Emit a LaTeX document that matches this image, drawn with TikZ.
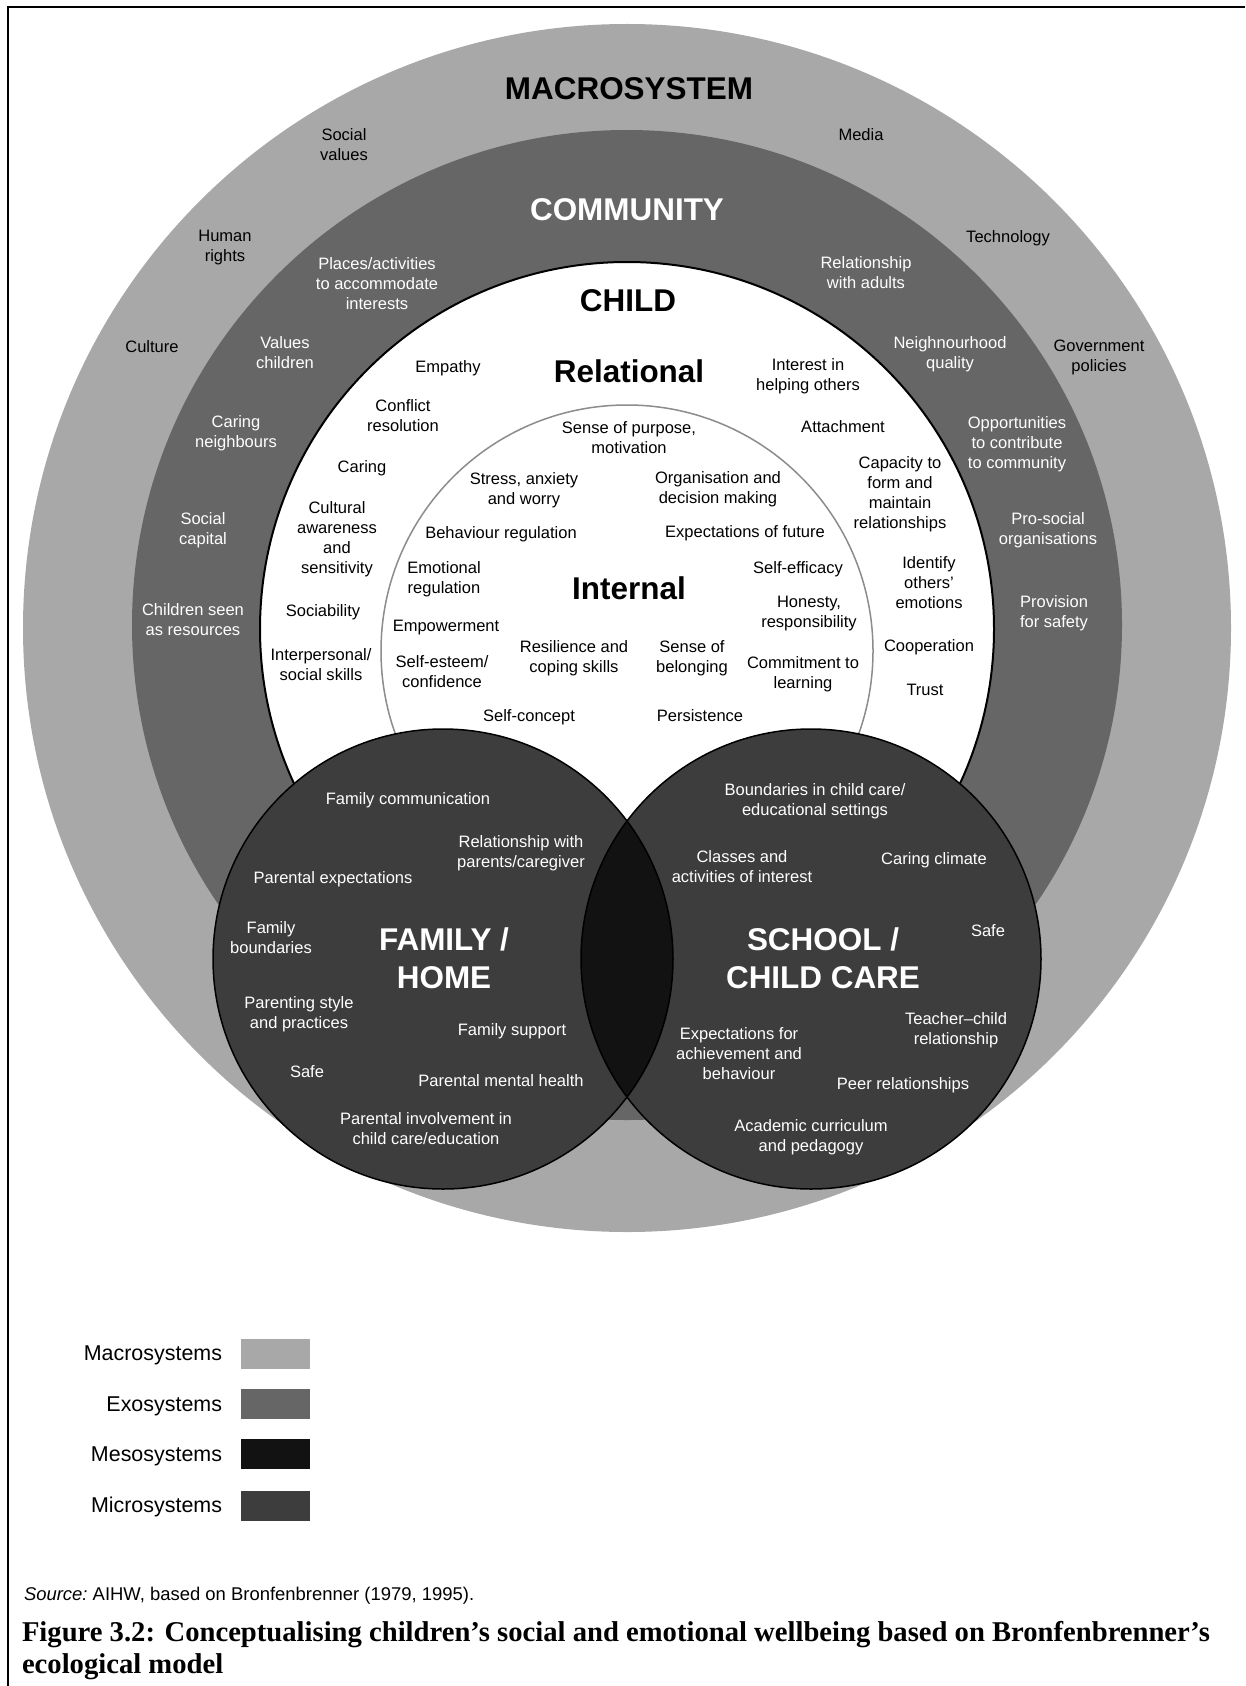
\documentclass[tikz,border=0pt]{standalone}
\usepackage{fontspec}
\setmainfont{Liberation Sans}
\newfontfamily\capfont{Liberation Serif}
\usepackage{tikz}

\definecolor{macrogray}{gray}{0.66}
\definecolor{exogray}{gray}{0.40}
\definecolor{microgray}{gray}{0.24}
\definecolor{mesogray}{gray}{0.07}
\definecolor{ringgray}{gray}{0.55}

\begin{document}
\begin{tikzpicture}[x=0.02cm, y=-0.02cm,
  every node/.style={inner sep=0pt, outer sep=0pt},
  lab/.style={align=center, font=\fontsize{9.4}{11.5}\selectfont, yshift=-0.05cm,
    execute at begin node=\strut, execute at end node=\strut},
  labw/.style={lab, text=white},
  head/.style={align=center, font=\fontsize{17.9}{21.5}\selectfont\bfseries, yshift=-0.03cm,
    execute at begin node=\strut, execute at end node=\strut},
  legtext/.style={anchor=east, font=\fontsize{12.2}{14.6}\selectfont, yshift=-0.05cm,
    execute at begin node=\strut},
  swatch/.style={minimum width=1.38cm, minimum height=0.6cm}]
\useasboundingbox (0,0) rectangle (1245,1686);
\draw[line width=0.04cm] (8,1686) -- (8,7) -- (1245,7);

\fill[macrogray] (627,628) circle (604);
\fill[exogray] (627,625) circle (495);
\filldraw[fill=white, draw=black, line width=0.04cm] (627,629) circle (367);
\draw[ringgray, line width=0.03cm] (627,651) circle (246);
\fill[microgray] (443,959) circle (230);
\fill[microgray] (811,959) circle (230);
\begin{scope}
\clip (443,959) circle (230);
\fill[mesogray] (811,959) circle (230);
\end{scope}
\draw[black, line width=0.03cm] (443,959) circle (230);
\draw[black, line width=0.03cm] (811,959) circle (230);

\node[head] (macrotitle) at (629,90) {MACROSYSTEM};
\node[lab] (socval) at (344,145) {Social\\values};
\node[lab] (media) at (861,134) {Media};
\node[lab] (humrights) at (225,246) {Human\\rights};
\node[lab] (techno) at (1008,236) {Technology};
\node[lab] (culture) at (152,346) {Culture};
\node[lab] (govpol) at (1099,356) {Government\\policies};

\node[head, text=white] (commtitle) at (627,211) {COMMUNITY};
\node[labw] (places) at (377,284) {Places/activities\\to accommodate\\interests};
\node[labw] (reladults) at (866,273) {Relationship\\with adults};
\node[labw] (valchild) at (285,353) {Values\\children};
\node[labw] (neighq) at (950,353) {Neighnourhood\\quality};
\node[labw] (caringn) at (236,432) {Caring\\neighbours};
\node[labw] (opport) at (1017,443) {Opportunities\\to contribute\\to community};
\node[labw] (soccap) at (203,529) {Social\\capital};
\node[labw] (prosoc) at (1048,529) {Pro-social\\organisations};
\node[labw] (chres) at (193,620) {Children seen\\as resources};
\node[labw] (provsafe) at (1054,612) {Provision\\for safety};

\node[head] (childtitle) at (628,302) {CHILD};
\node[head] (reltitle) at (629,373) {Relational};
\node[lab] (empathy) at (448,366) {Empathy};
\node[lab] (interest) at (808,375) {Interest in\\helping others};
\node[lab] (conflict) at (403,416) {Conflict\\resolution};
\node[lab] (attach) at (843,426) {Attachment};
\node[lab] (caring) at (362,466) {Caring};
\node[lab] (capacity) at (900,493) {Capacity to\\form and\\maintain\\relationships};
\node[lab] (cultural) at (337,538) {Cultural\\awareness\\and\\sensitivity};
\node[lab] (identify) at (929,583) {Identify\\others’\\emotions};
\node[lab] (sociab) at (323,610) {Sociability};
\node[lab] (coop) at (929,645) {Cooperation};
\node[lab] (interpers) at (321,665) {Interpersonal/\\social skills};
\node[lab] (trust) at (925,689) {Trust};

\node[head] (inttitle) at (629,590) {Internal};
\node[lab] (purpose) at (629,438) {Sense of purpose,\\motivation};
\node[lab] (stress) at (524,489) {Stress, anxiety\\and worry};
\node[lab] (organis) at (718,488) {Organisation and\\decision making};
\node[lab] (behav) at (501,532) {Behaviour regulation};
\node[lab] (expect) at (745,531) {Expectations of future};
\node[lab] (emoreg) at (444,578) {Emotional\\regulation};
\node[lab] (effic) at (798,567) {Self-efficacy};
\node[lab] (honesty) at (809,612) {Honesty,\\responsibility};
\node[lab] (empower) at (446,625) {Empowerment};
\node[lab] (resil) at (574,657) {Resilience and\\coping skills};
\node[lab] (belong) at (692,657) {Sense of\\belonging};
\node[lab] (esteem) at (442,672) {Self-esteem/\\confidence};
\node[lab] (commit) at (803,673) {Commitment to\\learning};
\node[lab] (concept) at (529,715) {Self-concept};
\node[lab] (persist) at (700,715) {Persistence};

\node[head, text=white] (famhome) at (444,962) {FAMILY /\\HOME};
\node[labw] (famcomm) at (408,798) {Family communication};
\node[labw] (relpar) at (521,852) {Relationship with\\parents/caregiver};
\node[labw] (parexp) at (333,877) {Parental expectations};
\node[labw] (fambound) at (271,938) {Family\\boundaries};
\node[labw] (parstyle) at (299,1013) {Parenting style\\and practices};
\node[labw] (famsupp) at (512,1029) {Family support};
\node[labw] (safefam) at (307,1071) {Safe};
\node[labw] (parmental) at (501,1080) {Parental mental health};
\node[labw] (parinv) at (426,1129) {Parental involvement in\\child care/education};

\node[head, text=white] (school) at (823,962) {SCHOOL /\\CHILD CARE};
\node[labw] (bound) at (815,800) {Boundaries in child care/\\educational settings};
\node[labw] (classes) at (742,867) {Classes and\\activities of interest};
\node[labw] (caringcl) at (934,858) {Caring climate};
\node[labw] (safesch) at (988,930) {Safe};
\node[labw] (teacher) at (956,1029) {Teacher–child\\relationship};
\node[labw] (expach) at (739,1054) {Expectations for\\achievement and\\behaviour};
\node[labw] (peer) at (903,1083) {Peer relationships};
\node[labw] (academic) at (811,1136) {Academic curriculum\\and pedagogy};

\node[legtext] (lmacro) at (222,1353) {Macrosystems};
\node[legtext] (lexo) at (222,1404) {Exosystems};
\node[legtext] (lmeso) at (222,1454) {Mesosystems};
\node[legtext] (lmicro) at (222,1505) {Microsystems};
\node[swatch, fill=macrogray] (smacro) at (275.5,1354) {};
\node[swatch, fill=exogray] (sexo) at (275.5,1403.5) {};
\node[swatch, fill=mesogray] (smeso) at (275.5,1454) {};
\node[swatch, fill=microgray] (smicro) at (275.5,1506) {};

\node[anchor=west, font=\fontsize{10.5}{12.6}\selectfont, yshift=-0.05cm,
  execute at begin node=\strut] (source) at (24,1594)
  {\textit{Source:}\ AIHW, based on Bronfenbrenner (1979, 1995).};
\node[anchor=west, align=left, font=\fontsize{16.3}{18.1}\selectfont\capfont\bfseries, yshift=-0.05cm,
  execute at begin node=\strut, execute at end node=\strut] (caption) at (22,1650)
  {Figure 3.2: Conceptualising children’s social and emotional wellbeing based on Bronfenbrenner’s\\ecological model};
\end{tikzpicture}
\end{document}
